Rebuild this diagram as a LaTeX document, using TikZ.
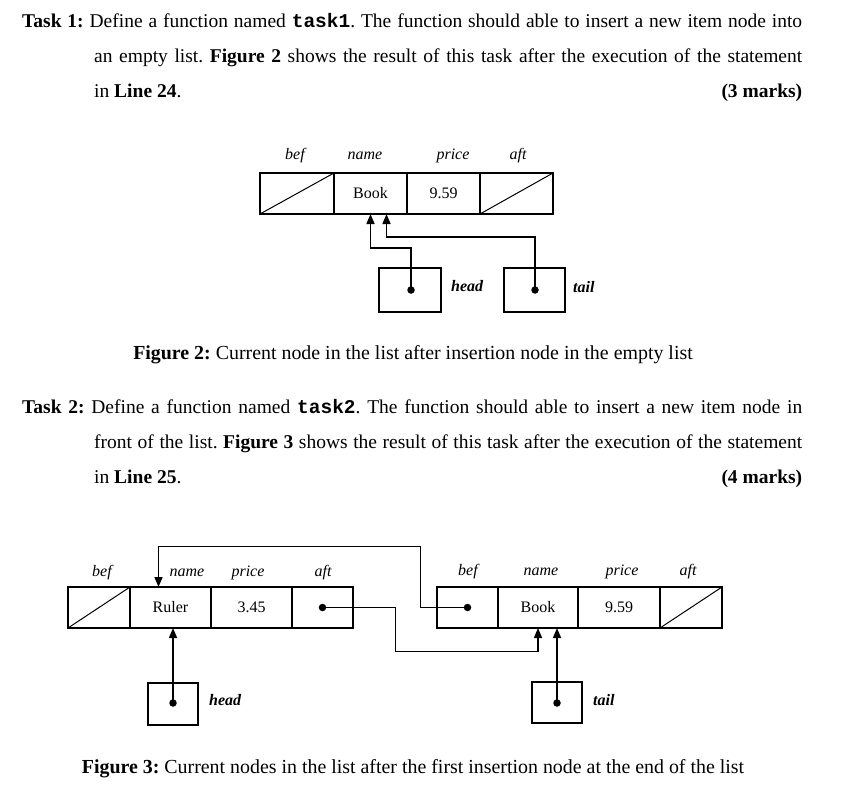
\documentclass[tikz,border=0pt]{standalone}
\usepackage{fontspec}
\setmainfont{Liberation Serif}
\setmonofont{Liberation Mono}
\usetikzlibrary{positioning,arrows.meta}

\tikzset{
    cell/.style={draw, line width=1.5pt, minimum height=41pt, inner sep=0pt, outer sep=0pt,
        font=\fontsize{16}{19}\selectfont},
    fld/.style={inner sep=0pt, font=\fontsize{16}{19}\selectfont\itshape},
    who/.style={anchor=west, inner sep=0pt, font=\fontsize{16}{19}\selectfont\bfseries\itshape},
    ptrbox/.style={draw, line width=1.5pt, inner sep=0pt, outer sep=0pt},
    ptrdot/.style={circle, fill, inner sep=0pt, minimum size=7.5pt},
    ptr/.style={-{Triangle[length=10pt,width=8pt]}, line width=1.5pt},
    para/.style={anchor=north west, inner sep=0pt, text width=780pt, align=justify,
        font=\fontsize{19.5}{35}\selectfont\frenchspacing},
    capt/.style={anchor=base, inner sep=0pt, font=\fontsize{19.9}{23}\selectfont\frenchspacing}
}

\begin{document}
\begin{tikzpicture}[x=1pt,y=-1pt]
    \useasboundingbox[fill=white] (0,0) rectangle (843,800);

    % task text
    \node[para] (task1) at (22,13.5) {\hangindent=72pt\hangafter=1\relax\textbf{Task 1:} Define a function named \texttt{\textbf{task1}}. The function should able to insert a new item node into\linebreak
        an empty list. \textbf{Figure 2} shows the result of this task after the execution of the statement\linebreak
        in \textbf{Line 24}.\hfill\textbf{(3 marks)}\par};

    % figure 2
    \node[cell, minimum width=74pt, anchor=north west] (bef1) at (260,173) {};
    \node[cell, minimum width=73pt, right=0pt of bef1] (name1) {Book};
    \node[cell, minimum width=73pt, right=0pt of name1] (price1) {9.59};
    \node[cell, minimum width=73pt, right=0pt of price1] (aft1) {};
    \draw[line width=1pt] (bef1.south west) -- (bef1.north east);
    \draw[line width=1pt] (aft1.south west) -- (aft1.north east);
    \node[fld] (lbef1) at (295,156) {bef};
    \node[fld] (lname1) at (365,156) {name};
    \node[fld] (lprice1) at (453,156) {price};
    \node[fld] (laft1) at (518,156) {aft};

    \node[ptrbox, minimum width=62pt, minimum height=44pt] (head1) at (410,290) {};
    \node[ptrdot] (hdot1) at (411,290) {};
    \node[who] (lhead1) at (451,286) {head};
    \node[ptrbox, minimum width=61pt, minimum height=44pt] (tail1) at (534.5,290) {};
    \node[ptrdot] (tdot1) at (535,290) {};
    \node[who] (ltail1) at (573,287) {tail};
    \draw[ptr] (hdot1.center) -- ++(0,-42) -| (name1.south);
    \draw[ptr] (tdot1.center) -- ++(0,-53) -| ([xshift=16pt]name1.south);

    \node[capt] (cap2) at (413,359) {\textbf{Figure 2:} Current node in the list after insertion node in the empty list};

    \node[para] (task2) at (22,399) {\hangindent=72pt\hangafter=1\relax\textbf{Task 2:} Define a function named \texttt{\textbf{task2}}. The function should able to insert a new item node in\linebreak
        front of the list. \textbf{Figure 3} shows the result of this task after the execution of the statement\linebreak
        in \textbf{Line 25}.\hfill\textbf{(4 marks)}\par};

    % figure 3, first node
    \node[cell, minimum width=62pt, anchor=north west] (bef2) at (68,587) {};
    \node[cell, minimum width=81pt, right=0pt of bef2] (name2) {Ruler};
    \node[cell, minimum width=81pt, right=0pt of name2] (price2) {3.45};
    \node[cell, minimum width=61pt, right=0pt of price2] (aft2) {};
    \draw[line width=1pt] (bef2.south west) -- (bef2.north east);
    \node[ptrdot] (adot2) at (aft2.center) {};
    \node[fld] (lbef2) at (102,573) {bef};
    \node[fld] (lname2) at (187,573) {name};
    \node[fld] (lprice2) at (248,573) {price};
    \node[fld] (laft2) at (323,573) {aft};

    % figure 3, second node
    \node[cell, minimum width=61pt, anchor=north west] (bef3) at (437,587) {};
    \node[cell, minimum width=80pt, right=0pt of bef3] (name3) {Book};
    \node[cell, minimum width=82pt, right=0pt of name3] (price3) {9.59};
    \node[cell, minimum width=62pt, right=0pt of price3] (aft3) {};
    \draw[line width=1pt] (aft3.south west) -- (aft3.north east);
    \node[ptrdot] (bdot3) at (bef3.center) {};
    \node[fld] (lbef3) at (468,572) {bef};
    \node[fld] (lname3) at (541,572) {name};
    \node[fld] (lprice3) at (622,572) {price};
    \node[fld] (laft3) at (688,572) {aft};

    \draw[ptr] (adot2.center) -| ++(73,44) -| (name3.south);
    \draw[ptr] (bdot3.center) -| ++(-47,-61) -| ([xshift=-12pt]name2.north);

    \node[ptrbox, minimum width=50pt, minimum height=42pt] (head2) at (173,704) {};
    \node[ptrdot] (hdot2) at (173,703) {};
    \node[who] (lhead2) at (209,700) {head};
    \node[ptrbox, minimum width=50pt, minimum height=41pt] (tail2) at (557,702.5) {};
    \node[ptrdot] (tdot2) at (557,703) {};
    \node[who] (ltail2) at (593,700) {tail};
    \draw[ptr] (hdot2.center) -- (hdot2.center |- name2.south);
    \draw[ptr] (tdot2.center) -- (tdot2.center |- name3.south);

    \node[capt] (cap3) at (413,773) {\textbf{Figure 3:} Current nodes in the list after the first insertion node at the end of the list};
\end{tikzpicture}
\end{document}
